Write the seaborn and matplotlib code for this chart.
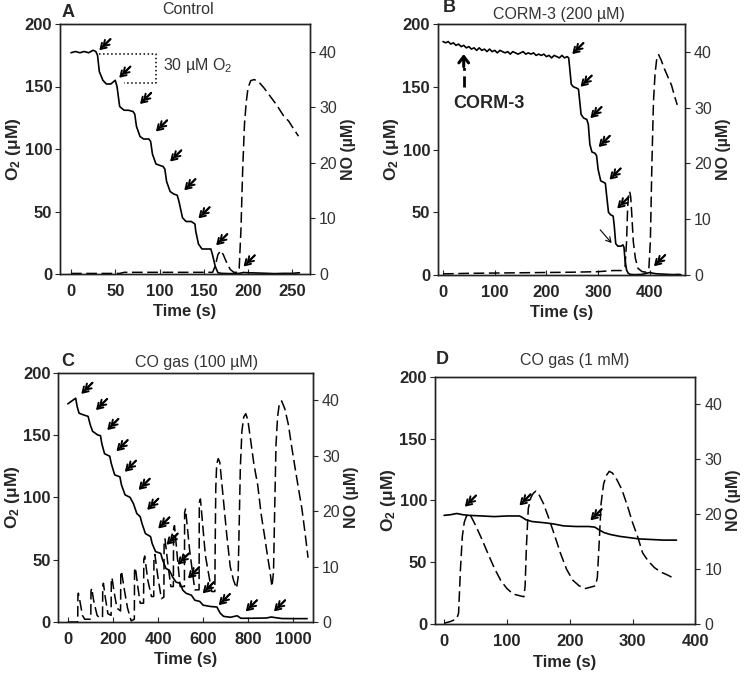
import matplotlib
matplotlib.use("Agg")
import matplotlib.pyplot as plt
import numpy as np
import seaborn as sns

# ---- data ----
# A: control
a_o2_t = [0, 5, 10, 15, 20, 25, 28, 30, 32, 36, 40, 45, 50, 52, 55, 60, 65, 70, 72, 74, 78, 82, 88, 90,
          92, 96, 100, 104, 106, 108, 112, 116, 120, 122, 126, 130, 136, 140, 141, 144, 148, 154, 158,
          160, 163, 166, 170, 180, 190, 195, 200, 210, 230, 240, 250, 258]
a_o2 = [177, 178, 177, 178, 177, 179, 178, 175, 162, 155, 152, 152, 155, 150, 134, 131, 131, 130, 128,
        118, 110, 108, 108, 106, 96, 88, 87, 86, 84, 74, 66, 64, 63, 58, 45, 42, 42, 40, 34, 24, 20,
        20, 20, 15, 6, 1, 0.5, 0.3, 0.5, 1.2, 1, 0.8, 0.3, 0.5, 0.5, 1]
a_no_t = [0, 55, 60, 160, 163, 166, 169, 172, 176, 180, 184, 188, 190, 192, 194, 196, 198, 200, 203,
          207, 212, 218, 225, 232, 240, 246, 252, 257]
a_no = [0.1, 0.1, 0.3, 0.3, 1.5, 3.5, 4.2, 3.5, 2, 0.8, 0.3, 0.3, 1, 8, 19, 27, 31, 33.5, 34.8, 35,
        34.6, 33.5, 32, 30.5, 28.5, 27.5, 26, 24.8]
a_kicks_t = [32, 54.5, 78, 96, 112, 128, 144, 164, 195]
a_kicks_y = [179, 157, 136, 114, 90, 67, 44.5, 23, 6]

# B: CORM-3 (200 uM)
b_o2_t = [0, 5, 10, 15, 20, 25, 30, 35, 40, 45, 50, 55, 60, 65, 70, 75, 80, 85, 90, 95, 100, 105,
          110, 115, 120, 125, 130, 135, 140, 145, 150, 155, 160, 165, 170, 175, 180, 185, 190, 195,
          200, 205, 210, 215, 220, 225, 230, 235, 240, 243,
          245, 248, 252, 258, 262, 264, 267, 272, 278, 281, 284, 288, 294, 297, 300, 305, 310, 314,
          316, 320, 324, 329, 331, 334, 338, 344, 348, 350, 352, 355, 358, 362, 370, 385, 395, 400,
          405, 412, 420, 430, 445, 455, 460]
b_o2 = [186, 185, 186, 184, 185, 183, 184, 182, 183, 181, 182, 180, 181, 179, 181, 179, 180, 178, 180,
        178, 179, 177, 179, 178, 177, 178, 176, 178, 177, 176, 177, 178, 176, 177, 176, 177, 175, 176,
        175, 176, 174, 175, 173, 175, 174, 173, 175, 173, 174, 173,
        165, 152, 150, 149, 148, 140, 128, 125, 124, 120, 104, 98, 97, 95, 84, 75, 74, 73, 65, 50, 48,
        47, 40, 25, 23, 23, 24, 22, 12, 4, 1.5, 0.5, 0.3, 0.5, 1.5, 2, 1.5, 1, 0.8, 0.6, 0.3, 0.5, 0.3]
b_no_t = [0, 50, 150, 250, 300, 330, 345, 352, 355, 357, 359, 361, 363, 365, 368, 372, 377, 385, 393,
          398, 401, 404, 407, 410, 413, 417, 422, 428, 435, 442, 448, 453]
b_no = [0.2, 0.3, 0.4, 0.5, 0.6, 0.8, 0.8, 1.5, 6, 12, 14.5, 15, 14, 11, 6, 3, 1.2, 0.6, 0.5, 1, 6, 20,
        31, 36, 38.5, 39.5, 38.5, 37, 35.5, 34, 32, 30.5]
b_kicks_t = [250, 266, 285, 301, 322, 337, 408]
b_kicks_y = [176, 150, 125, 102, 76, 53, 7]

# C: CO gas (100 uM)
c_o2_t = [0, 27, 35, 42, 50, 72, 90, 100, 110, 133, 145, 151, 163, 186, 193, 208, 231, 238, 254, 276,
          291, 306, 321, 329, 344, 367, 374, 389, 412, 420, 435, 450, 465, 480, 498, 510, 525, 548,
          563, 585, 600, 631, 661, 676, 691, 721, 751, 767, 812, 880, 902, 920, 948, 1000, 1061]
c_o2 = [175, 178.5, 179.5, 172.5, 167.5, 166, 165, 158, 153, 150, 149.5, 143, 135, 133, 127, 118,
        116.5, 110, 102, 100, 95, 87, 84.5, 79, 71, 68.5, 63, 56.5, 55, 50, 43, 41.5, 36, 32, 31,
        25.5, 23, 21.5, 17.5, 16.5, 13.5, 12.5, 12, 7, 4.5, 3.8, 5, 3, 3, 3.2, 4, 3.5, 2.8, 2.7, 2.7]
c_no_t = [0, 44, 45, 47, 55, 65, 75, 102,
          103, 106, 115, 130, 140, 154,
          155, 158, 166, 178, 192,
          193, 196, 205, 218, 234,
          235, 238, 250, 265, 281, 295,
          296, 300, 310, 321, 336,
          337, 341, 355, 371, 381,
          382, 386, 400, 415, 426,
          427, 431, 445, 457, 468,
          469, 473, 485, 498, 517,
          518, 522, 540, 563, 582,
          583, 588, 610, 638, 652,
          653, 656, 660, 667, 674, 690, 705, 720, 735, 748,
          755, 759, 765, 772, 780, 789, 798, 810, 825, 842, 857, 872, 885, 895, 905,
          912, 917, 923, 930, 938, 948, 962, 978, 993, 1008, 1023, 1038, 1052, 1065]
c_no = [0, 0, 4.8, 5.2, 3.5, 1.2, 0.5, 0.5,
        5.6, 6.1, 3.8, 1.2, 0.8, 0.8,
        6.4, 7.0, 4.5, 1.5, 1.2,
        7.5, 8.0, 5.5, 2.5, 2.0,
        8.6, 9.2, 6.0, 2.5, 0.2, 0.5,
        9.2, 9.8, 6.5, 3.4, 3.4,
        11.3, 11.9, 7.5, 4.6, 4.6,
        11.6, 12.2, 8.0, 4.2, 4.5,
        14.5, 15.0, 10, 6.4, 6.4,
        16.8, 17.4, 12, 6.4, 6.4,
        19.8, 20.4, 13, 5.8, 5.8,
        21.6, 22.2, 12, 5.5, 5.5,
        12, 24, 28.5, 29.5, 28.8, 22, 15.6, 10, 7.5, 6.1,
        8, 16, 28, 34.5, 37, 37.6, 36.5, 33, 28.5, 24.7, 19.5, 15.6, 12, 9.5, 6.4,
        9, 20, 32, 37, 39.5, 39.9, 38.5, 35.6, 31.5, 27.7, 24, 20.4, 16, 11.6]
c_kicks_t = [60, 125, 175, 216, 253, 314, 352, 401, 438, 487, 533, 598, 669, 789, 914]
c_kicks_y = [183, 170, 154, 137, 120.5, 106, 90, 75, 62, 46, 35, 23, 13.5, 8.5, 8.5]

# D: CO gas (1 mM)
d_o2_t = [0, 10, 20, 30, 40, 60, 80, 100, 120, 124, 130, 140, 150, 160, 175, 190, 210, 230, 240, 246,
          255, 265, 280, 295, 310, 330, 350, 370]
d_o2 = [88, 88.5, 89.5, 88.5, 88, 87.5, 87, 87.5, 87.5, 86.5, 84.5, 83, 82.5, 82, 81, 79.5, 79, 79,
        78.5, 76.5, 74, 72.5, 71, 70, 69, 68.5, 68, 68]
d_no_t = [0, 10, 20, 23, 26, 29, 32, 35, 38, 42, 50, 60, 70, 80, 90, 100, 110, 120, 127, 129, 131, 134,
          138, 142, 146, 150, 158, 166, 175, 185, 195, 205, 215, 225, 235, 241, 244, 247, 250, 254,
          258, 263, 268, 275, 283, 292, 300, 308, 316, 325, 335, 345, 355, 367]
d_no = [0.2, 0.5, 1.0, 2, 10, 16, 18.5, 19.5, 20, 19.8, 18, 15.5, 12.8, 10.2, 8, 6.5, 5.5, 5.2, 5, 7,
        14, 21, 23, 23.8, 24.2, 23.8, 22, 19.5, 16.5, 13, 10, 8, 7, 6.5, 6.8, 7, 8.5, 15, 22, 25.5,
        27, 27.8, 27.5, 26.3, 24.5, 21.5, 18.5, 16, 13, 11.5, 10.3, 9.5, 9, 8.3]
d_kicks_t = [33, 120, 233]
d_kicks_y = [95, 96, 84]

sns.set_style("ticks")
plt.rcParams["font.family"] = ["Liberation Sans", "DejaVu Sans"]
plt.rcParams["mathtext.fontset"] = "custom"
plt.rcParams["mathtext.rm"] = "Liberation Sans"
plt.rcParams["mathtext.it"] = "Liberation Sans:italic"
plt.rcParams["mathtext.bf"] = "Liberation Sans:bold"

W, H = 745, 680
fig = plt.figure(figsize=(W / 100, H / 100), dpi=100)
GREY = "#333333"


def kick(ax, t, y, lw=1.4, size=8):
    # little double-headed "addition" arrow
    for shr in (0, 3):
        ax.annotate("", xy=(t, y), xytext=(size, size), textcoords="offset points",
                    arrowprops=dict(arrowstyle="->,head_length=0.38,head_width=0.24", lw=lw,
                                    color="k", shrinkA=0, shrinkB=shr))


def panel(rect, letter, title, o2_t, o2, no_t, no, xlim, xticks, kt, ky, letter_xy, title_xy):
    l, t, w, h = rect
    ax = fig.add_axes([l / W, 1 - (t + h) / H, w / W, h / H])
    ax2 = ax.twinx()
    sns.lineplot(x=o2_t, y=o2, ax=ax, color="k", lw=1.2, estimator=None, sort=False)
    sns.lineplot(x=no_t, y=no, ax=ax2, color="k", lw=1.1, estimator=None, sort=False,
                 linestyle=(0, (7, 3)))
    ax.set_xlim(*xlim)
    ax.set_xticks(xticks)
    ax.set_ylim(0, 200)
    ax.set_yticks([0, 50, 100, 150, 200])
    ax2.set_ylim(0, 45)
    ax2.set_yticks([0, 10, 20, 30, 40])
    ax.tick_params(axis="y", direction="out", length=3.5, labelsize=12, pad=2)
    ax.tick_params(axis="x", direction="in", length=3.5, labelsize=12, pad=7)
    ax2.tick_params(axis="y", direction="out", length=3.5, labelsize=11.5, labelcolor=GREY, pad=3)
    for lab in ax.get_xticklabels() + ax.get_yticklabels():
        lab.set_fontweight("bold")
    ax.set_xlabel("Time (s)", fontsize=12, fontweight="bold", labelpad=4)
    ax.set_ylabel(r"O$_\mathbf{2}$ ($\mathbf{\mu}$M)", fontsize=12.5, fontweight="bold", labelpad=1)
    ax2.set_ylabel("NO (µM)", fontsize=11.5, fontweight="bold", labelpad=3)
    for sp in list(ax.spines.values()) + list(ax2.spines.values()):
        sp.set_visible(True)
        sp.set_linewidth(1.0)
        sp.set_color("#222222")
    for tt, yy in zip(kt, ky):
        kick(ax, tt, yy)
    fig.text(letter_xy[0] / W, 1 - letter_xy[1] / H, letter, fontsize=13, fontweight="bold",
             ha="center", va="center")
    fig.text(title_xy[0] / W, 1 - title_xy[1] / H, title, fontsize=11.5, color=GREY,
             ha="center", va="center")
    return ax, ax2


axA, _ = panel((60, 24, 250, 250), "A", "Control", a_o2_t, a_o2, a_no_t, a_no,
               (-12.4, 270), [0, 50, 100, 150, 200, 250], a_kicks_t, a_kicks_y, (68, 12.5), (188, 10))
axB, _ = panel((437.7, 24, 247.3, 251), "B", "CORM-3 (200 µM)", b_o2_t, b_o2, b_no_t, b_no,
               (-10.3, 468), [0, 100, 200, 300, 400], b_kicks_t, b_kicks_y, (449, 7.5), (559, 15))
axC, _ = panel((58.3, 372.7, 254.7, 249.3), "C", "CO gas (100 µM)", c_o2_t, c_o2, c_no_t, c_no,
               (-42, 1087), [0, 200, 400, 600, 800, 1000], c_kicks_t, c_kicks_y, (68, 361.5), (197, 362))
axD, _ = panel((434.7, 376.7, 260.6, 247.6), "D", "CO gas (1 mM)", d_o2_t, d_o2, d_no_t, d_no,
               (-15, 400), [0, 100, 200, 300, 400], d_kicks_t, d_kicks_y, (442, 360), (575, 360))

# A: 30 uM O2 scale box
axA.plot([32, 96, 96, 60], [176, 176, 153, 153], ls=":", color="k", lw=1.1)
axA.text(104, 167, "30 µM O$_2$", fontsize=11.5, color=GREY, ha="left", va="center")

# B: CORM-3 addition marker and thin arrow
axB.plot([40, 40], [150, 166], ls=(0, (4, 2, 1, 2)), color="k", lw=2)
axB.annotate("", xy=(40, 176), xytext=(40, 166),
             arrowprops=dict(arrowstyle="->,head_length=0.45,head_width=0.35", lw=2.2, color="k",
                             shrinkA=0, shrinkB=0))
axB.text(88, 137, "CORM-3", fontsize=13, fontweight="bold", ha="center", va="center")
axB.annotate("", xy=(326, 25.5), xytext=(304, 36),
             arrowprops=dict(arrowstyle="->,head_length=0.35,head_width=0.2", lw=0.8, color="k",
                             shrinkA=0, shrinkB=0))

fig.savefig("out.png", dpi=100)
